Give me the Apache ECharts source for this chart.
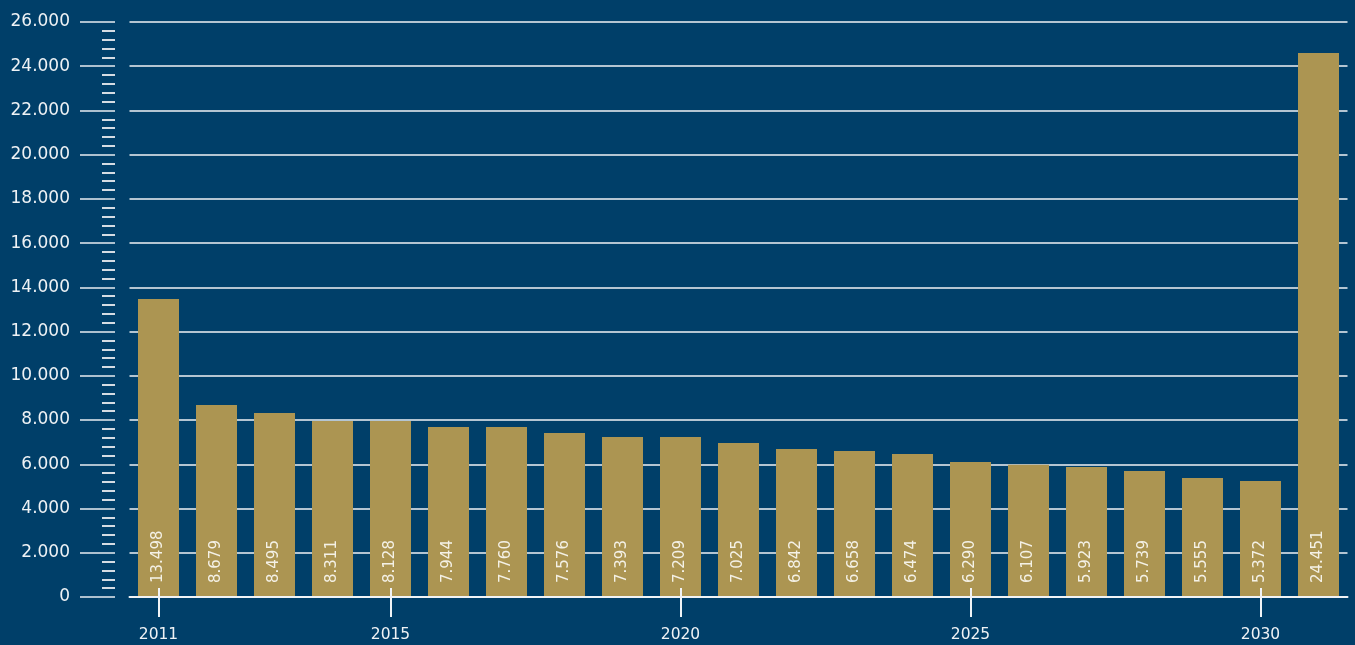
<!DOCTYPE html>
<html>
<head>
<meta charset="utf-8">
<script src="https://cdn.jsdelivr.net/npm/echarts@6/dist/echarts.min.js"></script>
<style>
html,body{margin:0;padding:0;background:#003F69;}
#chart{width:1355px;height:645px;}
</style>
</head>
<body>
<div id="chart"></div>
<script>
var years = ['2011','2012','2013','2014','2015','2016','2017','2018','2019','2020','2021','2022','2023','2024','2025','2026','2027','2028','2029','2030','2031'];
// bar heights as drawn in the picture
var barHeights = [13475, 8682, 8320, 7958, 7958, 7687, 7687, 7416, 7235, 7235, 6963, 6692, 6602, 6466, 6104, 5982, 5878, 5697, 5381, 5245, 24598];
// values printed inside the bars
var labelValues = [13498, 8679, 8495, 8311, 8128, 7944, 7760, 7576, 7393, 7209, 7025, 6842, 6658, 6474, 6290, 6107, 5923, 5739, 5555, 5372, 24451];
var shownYears = [0, 4, 9, 14, 19];
var yMin = 0, yMax = 26000, yStep = 2000;

function fmt(v){ return String(v).replace(/\B(?=(\d{3})+(?!\d))/g, '.'); }
function showIdx(i){ return shownYears.indexOf(i) >= 0; }

var FONT = 'DejaVu Sans';
var chart = echarts.init(document.getElementById('chart'));
chart.setOption({
  backgroundColor: '#003F69',
  animation: false,
  grid: { left: 129.5, right: 7.5, top: 22, bottom: 48 },
  xAxis: [{
    type: 'category',
    data: years,
    position: 'bottom',
    z: 10,
    axisLine: { show: true, lineStyle: { color: '#f0f3f6', width: 2 } },
    axisTick: { show: true, alignWithLabel: true, length: 20, interval: function(i){ return showIdx(i); }, lineStyle: { color: '#f0f3f6', width: 2 } },
    axisLabel: { show: true, interval: function(i){ return showIdx(i); }, margin: 30, color: '#eef2f5', fontFamily: FONT, fontSize: 15.5 },
    splitLine: { show: false }
  }, {
    type: 'category',
    data: years,
    position: 'bottom',
    z: 10,
    axisLine: { show: false },
    axisTick: { show: true, inside: true, alignWithLabel: true, length: 9, interval: function(i){ return showIdx(i); }, lineStyle: { color: '#f0f3f6', width: 2 } },
    axisLabel: { show: false },
    splitLine: { show: false }
  }],
  yAxis: {
    type: 'value',
    min: yMin, max: yMax, interval: yStep,
    offset: 14.5,
    axisLine: { show: false },
    axisTick: { show: true, length: 35, lineStyle: { color: '#e8edf1', width: 1.5 } },
    minorTick: { show: true, splitNumber: 5, length: 13, lineStyle: { color: '#d5dce3', width: 2 } },
    axisLabel: { margin: 45, color: '#eef2f5', fontFamily: FONT, fontSize: 17, formatter: function(v){ return fmt(v); } },
    splitLine: { show: true, lineStyle: { color: '#f0f3f6', width: 1.5 } }
  },
  series: [{
    type: 'bar',
    xAxisIndex: 0,
    data: barHeights,
    barWidth: 41,
    itemStyle: { color: '#AC9552' },
    label: {
      show: true,
      position: 'insideBottom',
      distance: 14,
      rotate: 90,
      align: 'left',
      verticalAlign: 'middle',
      color: '#f4f1e6',
      fontFamily: FONT,
      fontSize: 15,
      formatter: function(p){ return fmt(labelValues[p.dataIndex]); }
    }
  }]
});
</script>
</body>
</html>
